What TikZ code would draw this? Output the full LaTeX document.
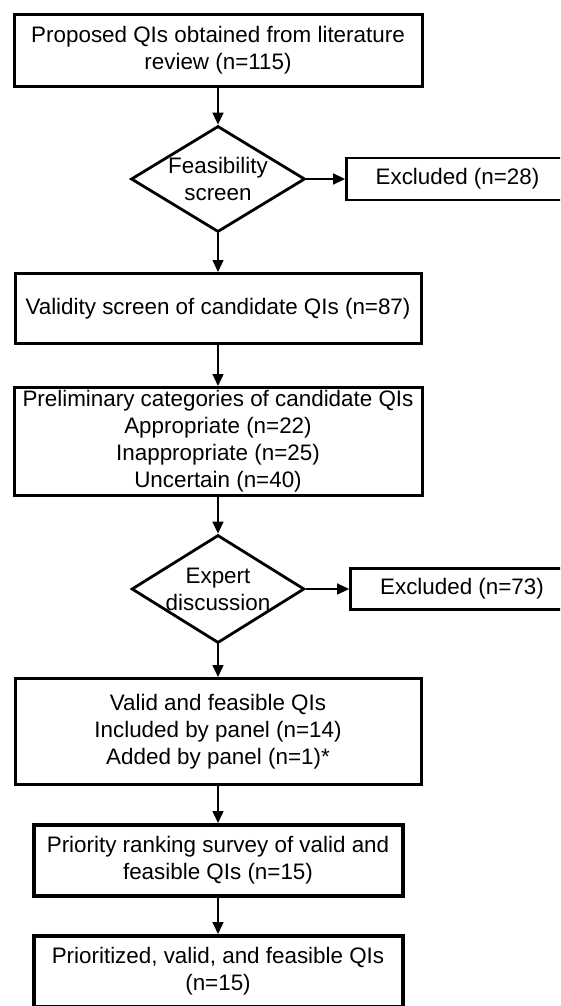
\documentclass[tikz,border=0pt]{standalone}
\usepackage{fontspec}
\setmainfont{Liberation Sans}
\usetikzlibrary{shapes.geometric,arrows.meta}

\begin{document}
\begin{tikzpicture}[x=1pt,y=1pt,yscale=-1,
    font=\fontsize{22.4}{27}\selectfont,
    qibox/.style={draw, line width=3pt, align=center, inner sep=2pt},
    thickbox/.style={qibox, line width=4pt},
    screen/.style={draw, diamond, aspect=1.6, line width=2.8pt, align=center, inner sep=0pt},
    outbox/.style={draw, line width=2.8pt, align=center, inner sep=2pt},
    flow/.style={line width=1.5pt, -{Triangle[length=12pt,width=11pt]}}]

    \useasboundingbox (0,0) rectangle (560,1006);
    \clip (0,0) rectangle (560,1006);

    % Boxes
    \node[qibox, minimum width=408, minimum height=72] (lit) at (218,50.5) {Proposed QIs obtained from literature\\review (n=115)};
    \node[screen, minimum width=174, minimum height=106] (feas) at (218,179) {Feasibility\\screen};
    \node[outbox, minimum width=222, minimum height=42] (excla) at (457.5,179) {Excluded (n=28)};
    \node[qibox, minimum width=406, minimum height=70] (valid) at (218,308.5) {Validity screen of candidate QIs (n=87)};
    \node[qibox, minimum width=408, minimum height=108] (prelim) at (218,441.5) {Preliminary categories of candidate QIs\\Appropriate (n=22)\\Inappropriate (n=25)\\Uncertain (n=40)};
    \node[screen, minimum width=172, minimum height=107] (expert) at (218,589) {Expert\\discussion};
    \node[outbox, minimum width=223, minimum height=41] (exclb) at (462,589) {Excluded (n=73)};
    \node[qibox, minimum width=406, minimum height=106] (panel) at (218,731.5) {Valid and feasible QIs\\Included by panel (n=14)\\Added by panel (n=1)*};
    \node[thickbox, minimum width=369, minimum height=71] (rank) at (218,860.5) {Priority ranking survey of valid and\\feasible QIs (n=15)};
    \node[thickbox, minimum width=369, minimum height=71] (final) at (218,971.5) {Prioritized, valid, and feasible QIs\\(n=15)};

    % Arrows
    \draw[flow] (lit) -- (feas);
    \draw[flow] (feas) -- (excla);
    \draw[flow] (feas) -- (valid);
    \draw[flow] (valid) -- (prelim);
    \draw[flow] (prelim) -- (expert);
    \draw[flow] (expert) -- (exclb);
    \draw[flow] (expert) -- (panel);
    \draw[flow] (panel) -- (rank);
    \draw[flow] (rank) -- (final);
\end{tikzpicture}
\end{document}
